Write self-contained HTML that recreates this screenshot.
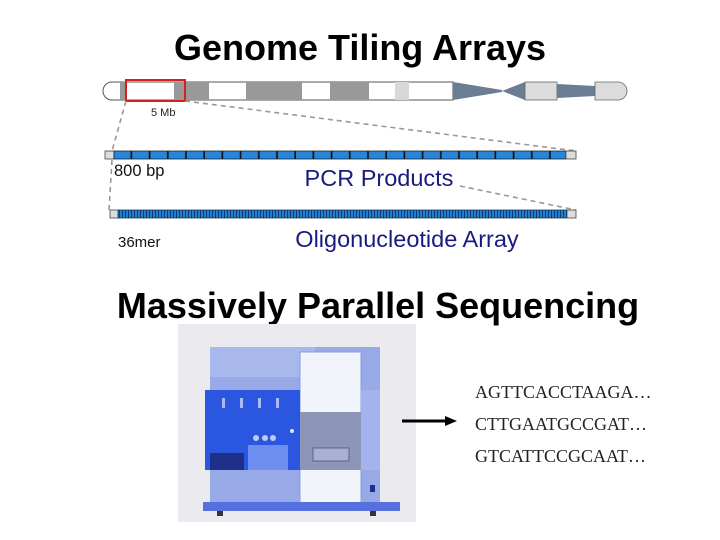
<!DOCTYPE html>
<html><head><meta charset="utf-8"><style>
html,body{margin:0;padding:0;background:#fff;}
svg{display:block}
</style></head><body>
<svg width="720" height="540" viewBox="0 0 720 540" xmlns="http://www.w3.org/2000/svg">
<defs>
<pattern id="olig" x="0" y="0" width="3" height="10" patternUnits="userSpaceOnUse">
<rect x="0" y="0" width="2" height="10" fill="#1f7fd0"/><rect x="2" y="0" width="1" height="10" fill="#123a66"/>
</pattern>
<pattern id="pcr" x="114" y="0" width="18.2" height="10" patternUnits="userSpaceOnUse">
<rect x="0" y="0" width="16.4" height="10" fill="#2486dc"/><rect x="16.4" y="0" width="1.8" height="10" fill="#111"/>
</pattern>
</defs>
<text x="360" y="60" text-anchor="middle" font-family="Liberation Sans, sans-serif" font-weight="bold" font-size="36" fill="#000">Genome Tiling Arrays</text>

<g>
<path d="M112,82 L453,82 L453,100 L112,100 A9,9 0 0 1 112,82 Z" fill="#fff" stroke="#555" stroke-width="1"/>
<rect x="120" y="82" width="7" height="18" fill="#999"/>
<rect x="174" y="82" width="35" height="18" fill="#999"/>
<rect x="246" y="82" width="56" height="18" fill="#999"/>
<rect x="330" y="82" width="39" height="18" fill="#999"/>
<rect x="395" y="82" width="14" height="18" fill="#d8d8d8"/>
<path d="M453,82 L502,90 L502,92 L453,100 Z" fill="#6a7d92"/>
<path d="M502,91 L525,82 L525,100 Z" fill="#6a7d92"/>
<rect x="525" y="82" width="32" height="18" fill="#dcdcdc" stroke="#666" stroke-width="0.8"/>
<path d="M557,84 L595,86 L595,96 L557,98 Z" fill="#6a7d92"/>
<path d="M595,82 L618,82 A9,9 0 0 1 618,100 L595,100 Z" fill="#dcdcdc" stroke="#666" stroke-width="0.8"/>
<rect x="126" y="80" width="59" height="21" fill="none" stroke="#d42020" stroke-width="2"/>
</g>
<text x="151" y="116" font-family="Liberation Sans, sans-serif" font-size="11" fill="#222">5 Mb</text>

<g stroke="#999" stroke-width="1.6" stroke-dasharray="5,4" fill="none">
<line x1="126" y1="101" x2="112" y2="151"/>
<line x1="185" y1="101" x2="576" y2="151"/>
<line x1="112" y1="160" x2="109" y2="210"/>
<line x1="460" y1="186" x2="576" y2="210"/>
</g>

<rect x="105" y="151" width="9" height="8" fill="#ddd" stroke="#444" stroke-width="0.8"/>
<rect x="114" y="151" width="452" height="8" fill="url(#pcr)" stroke="#222" stroke-width="0.8"/>
<rect x="566" y="151" width="10" height="8" fill="#ddd" stroke="#444" stroke-width="0.8"/>
<text x="114" y="176" font-family="Liberation Sans, sans-serif" font-size="16.5" fill="#111">800 bp</text>
<text x="379" y="186" text-anchor="middle" font-family="Liberation Sans, sans-serif" font-size="23.5" fill="#1a1a80">PCR Products</text>

<rect x="110" y="210" width="8" height="8" fill="#ddd" stroke="#444" stroke-width="0.8"/>
<rect x="118" y="210" width="449" height="8" fill="url(#olig)" stroke="#1a3a5a" stroke-width="0.8"/>
<rect x="567" y="210" width="9" height="8" fill="#ddd" stroke="#444" stroke-width="0.8"/>
<text x="118" y="247" font-family="Liberation Sans, sans-serif" font-size="15" fill="#111">36mer</text>
<text x="407" y="247" text-anchor="middle" font-family="Liberation Sans, sans-serif" font-size="23.5" fill="#1a1a80">Oligonucleotide Array</text>

<text x="378" y="318" text-anchor="middle" font-family="Liberation Sans, sans-serif" font-weight="bold" font-size="36" fill="#000">Massively Parallel Sequencing</text>

<rect x="178" y="324" width="238" height="198" fill="#ebebef"/>
<rect x="210" y="347" width="170" height="160" fill="#97a9e6"/>
<rect x="210" y="347" width="105" height="30" fill="#a9b8ec"/>
<rect x="300" y="352" width="61" height="155" fill="#f2f4fb" stroke="#8a9adf" stroke-width="1"/>
<rect x="205" y="390" width="95" height="80" fill="#2b56e0"/>
<rect x="210" y="453" width="34" height="17" fill="#1d2f88"/>
<rect x="248" y="445" width="40" height="25" fill="#6d8ef0"/>
<circle cx="256" cy="438" r="3" fill="#c0ccf5"/><circle cx="265" cy="438" r="3" fill="#c0ccf5"/><circle cx="273" cy="438" r="3" fill="#c0ccf5"/>
<g fill="#a9bbf5"><rect x="222" y="398" width="3" height="10"/><rect x="240" y="398" width="3" height="10"/><rect x="258" y="398" width="3" height="10"/><rect x="276" y="398" width="3" height="10"/></g>
<rect x="300" y="412" width="61" height="58" fill="#8d95b8"/>
<rect x="313" y="448" width="36" height="13" fill="#aab0d0" stroke="#5a6090" stroke-width="1"/>
<rect x="361" y="390" width="19" height="80" fill="#a3b4ec"/>
<circle cx="292" cy="431" r="2" fill="#e0e6fb"/>
<rect x="370" y="485" width="5" height="7" fill="#1d2f88"/>
<rect x="203" y="502" width="197" height="9" fill="#5670e0"/>
<rect x="217" y="511" width="6" height="5" fill="#334"/><rect x="370" y="511" width="6" height="5" fill="#334"/>

<line x1="402" y1="421" x2="448" y2="421" stroke="#000" stroke-width="3"/>
<path d="M445,416 L457,421 L445,426 Z" fill="#000"/>

<g font-family="Liberation Serif, serif" font-size="18" fill="#222">
<text x="475" y="398">AGTTCACCTAAGA…</text>
<text x="475" y="430">CTTGAATGCCGAT…</text>
<text x="475" y="462">GTCATTCCGCAAT…</text>
</g>
</svg>
</body></html>
